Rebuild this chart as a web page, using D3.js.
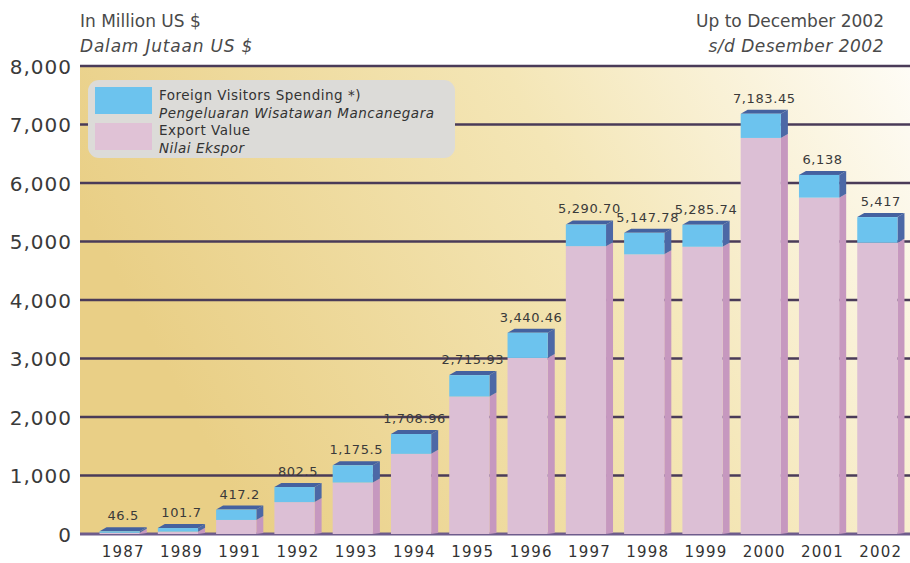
<!DOCTYPE html>
<html>
<head>
<meta charset="utf-8">
<script src="https://cdn.jsdelivr.net/npm/d3@7"></script>
<style>
  body { margin: 0; background: #fff; }
  svg { display: block; font-family: "DejaVu Sans", sans-serif; }
</style>
</head>
<body>
<div id="chart"></div>
<script>
// values (million US $)
const years = ["1987", "1989", "1991", "1992", "1993", "1994", "1995", "1996", "1997", "1998", "1999", "2000", "2001", "2002"]
const totalValue = [46.5, 101.7, 417.2, 802.5, 1175.5, 1708.96, 2715.93, 3440.46, 5290.70, 5147.78, 5285.74, 7183.45, 6138, 5417]
const exportValue = [20, 40, 240, 545, 880, 1370, 2350, 3010, 4920, 4780, 4910, 6770, 5750, 4980]
const totalLabels = ["46.5", "101.7", "417.2", "802.5", "1,175.5", "1,708.96", "2,715.93", "3,440.46", "5,290.70", "5,147.78", "5,285.74", "7,183.45", "6,138", "5,417"]
const yTicks = [0, 1000, 2000, 3000, 4000, 5000, 6000, 7000, 8000]

const W = 910, H = 563
const svg = d3.select("#chart").append("svg").attr("width", W).attr("height", H)

const x = d3.scaleBand().domain(years).range([94, 910]).paddingInner(0.19).paddingOuter(0.095)
const y = d3.scaleLinear().domain([0, 8000]).range([534, 66])
const depth = 7, rise = 4
const frontW = x.bandwidth() - depth

const defs = svg.append("defs")
const bg = defs.append("linearGradient").attr("id", "bg").attr("x1", "0").attr("y1", "0.3").attr("x2", "1").attr("y2", "0")
bg.append("stop").attr("offset", "0").attr("stop-color", "#e9cf86")
bg.append("stop").attr("offset", "0.55").attr("stop-color", "#f4e6b6")
bg.append("stop").attr("offset", "1").attr("stop-color", "#fefcf6")

// plot background
svg.append("rect").attr("x", 80).attr("y", y(8000)).attr("width", W - 80).attr("height", y(0) - y(8000)).attr("fill", "url(#bg)")

// gridlines
svg.append("g").selectAll("line").data(yTicks).join("line")
  .attr("x1", 80).attr("x2", W)
  .attr("y1", d => y(d)).attr("y2", d => y(d))
  .attr("stroke", d => d === 0 ? "#6e5c8c" : "#4a3b58")
  .attr("stroke-width", d => d === 0 ? 3 : 2.4)

// y axis labels
const yAxis = d3.axisLeft(y).tickValues(yTicks).tickFormat(d3.format(",")).tickSize(0).tickPadding(8)
svg.append("g").attr("transform", "translate(80,0)").call(yAxis)
  .call(g => g.select(".domain").remove())
  .call(g => g.selectAll("text").attr("font-size", 20).attr("letter-spacing", 1).attr("fill", "#3a3a3a").attr("font-family", "DejaVu Sans").attr("dy", "0.35em"))

// legend
const lg = svg.append("g")
lg.append("rect").attr("x", 88).attr("y", 80).attr("width", 367).attr("height", 78).attr("rx", 11)
  .attr("fill", "#dcdbd8")
lg.append("rect").attr("x", 95).attr("y", 87).attr("width", 57).attr("height", 27).attr("fill", "#6cc3ee")
lg.append("rect").attr("x", 95).attr("y", 123).attr("width", 57).attr("height", 27).attr("fill", "#e0c2d6")
const legendText = [
  ["Foreign Visitors Spending *)", "normal", 100],
  ["Pengeluaran Wisatawan Mancanegara", "italic", 118],
  ["Export Value", "normal", 135],
  ["Nilai Ekspor", "italic", 153]
]
lg.selectAll("text").data(legendText).join("text")
  .attr("x", 159).attr("y", d => d[2])
  .attr("font-size", 13.5).attr("letter-spacing", 0.5).attr("fill", "#333").attr("font-style", d => d[1])
  .text(d => d[0])

// bars
const bars = svg.append("g").selectAll("g").data(years).join("g")
  .attr("transform", d => `translate(${x(d)},0)`)

bars.each(function (yr, i) {
  const g = d3.select(this)
  const yT = y(totalValue[i]), yE = y(exportValue[i]), yB = y(0)
  // side faces
  g.append("path").attr("d", `M${frontW},${yE} L${frontW + depth},${yE - rise} L${frontW + depth},${yB - 1} L${frontW},${yB} Z`).attr("fill", "#c698bf")
  g.append("path").attr("d", `M${frontW},${yT} L${frontW + depth},${yT - rise} L${frontW + depth},${yE - rise} L${frontW},${yE} Z`).attr("fill", "#4c68a6")
  // top face
  g.append("path").attr("d", `M0,${yT} L${depth},${yT - rise} L${frontW + depth},${yT - rise} L${frontW},${yT} Z`).attr("fill", "#44619f")
  // front faces
  g.append("rect").attr("x", 0).attr("y", yE).attr("width", frontW).attr("height", yB - yE).attr("fill", "#dcbfd5")
  g.append("rect").attr("x", 0).attr("y", yT).attr("width", frontW).attr("height", yE - yT).attr("fill", "#6cc3ee")
  // value label
  g.append("text").attr("x", x.bandwidth() / 2).attr("y", yT - 11)
    .attr("text-anchor", "middle").attr("font-size", 13).attr("fill", "#3a3a3a")
    .attr("letter-spacing", 0.6)
    .text(totalLabels[i])
})

// x axis labels
const xAxis = d3.axisBottom(x).tickSize(0).tickPadding(9)
svg.append("g").attr("transform", `translate(0,${y(0)})`).call(xAxis)
  .call(g => g.select(".domain").remove())
  .call(g => g.selectAll("text").attr("font-size", 15).attr("fill", "#333").attr("font-family", "DejaVu Sans").attr("letter-spacing", 1.2).attr("dy", "0.9em"))

// headers
svg.append("text").attr("x", 80).attr("y", 27).attr("font-size", 17).attr("fill", "#4a4a4a").text("In Million US $")
svg.append("text").attr("x", 80).attr("y", 52).attr("font-size", 17).attr("letter-spacing", 0.8).attr("fill", "#4a4a4a").attr("font-style", "italic").text("Dalam Jutaan US $")
svg.append("text").attr("x", 884).attr("y", 27).attr("font-size", 17).attr("fill", "#4a4a4a").attr("text-anchor", "end").text("Up to December 2002")
svg.append("text").attr("x", 884).attr("y", 52).attr("font-size", 17).attr("letter-spacing", 0.5).attr("fill", "#4a4a4a").attr("text-anchor", "end").attr("font-style", "italic").text("s/d Desember 2002")
</script>
</body>
</html>
